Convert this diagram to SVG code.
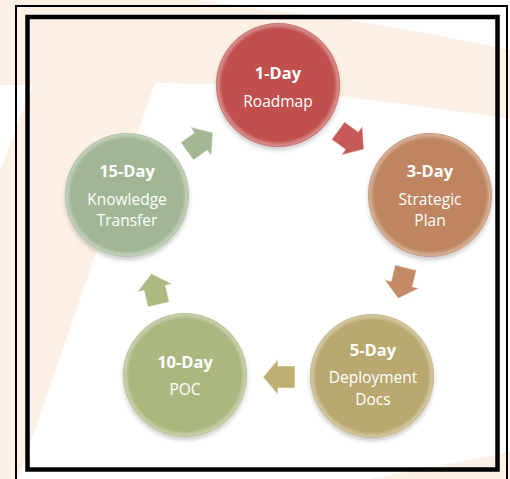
<svg xmlns="http://www.w3.org/2000/svg" width="510" height="479" viewBox="0 0 510 479">
<style>
.lbl{font-family:"Open Sans","Liberation Sans",sans-serif;fill:#fff;text-anchor:middle;font-size:15.5px}
.day{font-weight:bold;font-size:16.5px}
.node circle.base{filter:url(#sh)}
.rim{fill:url(#rimg)}
.arr{stroke:#fff;stroke-opacity:.5;stroke-width:1.2;stroke-linejoin:round}
</style>
<defs>
<filter id="sh" x="-20%" y="-20%" width="140%" height="140%">
<feDropShadow dx="0" dy="3" stdDeviation="2" flood-color="#000" flood-opacity="0.2"/>
</filter>
<radialGradient id="rimg" cx="0.5" cy="0.5" r="0.5">
<stop offset="0.9" stop-color="#fff" stop-opacity="0"/>
<stop offset="0.97" stop-color="#fff" stop-opacity="0.35"/>
<stop offset="1" stop-color="#fff" stop-opacity="0.15"/>
</radialGradient>
<path id="ar" d="M-16,-11 H1 V-18 L16,0 L1,18 V11 H-16 Z"/>
</defs>
<rect width="510" height="479" fill="#fdf1e5"/>
<path d="M155,83 L217,84 Q340,94 510,119 L510,452 L370,479 L18,479 Z" fill="#fff"/>
<path d="M200,0 L510,0 L510,50 Q410,29 330,17 L260,9 Z" fill="#fff"/>
<path d="M0,85 L33,85 L0,170 Z" fill="#fff"/>
<rect x="16" y="6" width="491" height="480" fill="none" stroke="#000" stroke-width="2"/>
<rect x="27.5" y="17" width="470" height="452.5" fill="none" stroke="#000" stroke-width="4.5"/>
<g id="connectors">
<use href="#ar" class="arr" fill="#c65a57" transform="translate(351,140) rotate(36)"/>
<use href="#ar" class="arr" fill="#c48a66" transform="translate(402,283) rotate(104)"/>
<use href="#ar" class="arr" fill="#bfae72" transform="translate(279,377) rotate(180)"/>
<use href="#ar" class="arr" fill="#acb97f" transform="translate(155,289) rotate(257)"/>
<use href="#ar" class="arr" fill="#a3b795" transform="translate(200,142) rotate(-36)"/>
</g>
<g id="n1" class="node">
<circle class="base" cx="278" cy="85" r="62" fill="#c0504d"/>
<circle class="rim" cx="278" cy="85" r="62"/>
<text class="lbl day" x="278" y="79">1-Day</text>
<text class="lbl" x="278" y="107">Roadmap</text>
</g>
<g id="n2" class="node">
<circle class="base" cx="430" cy="195" r="62" fill="#bf8560"/>
<circle class="rim" cx="430" cy="195" r="62"/>
<text class="lbl day" x="430" y="177">3-Day</text>
<text class="lbl" x="430" y="204.5">Strategic</text>
<text class="lbl" x="430" y="226">Plan</text>
</g>
<g id="n3" class="node">
<circle class="base" cx="372" cy="376" r="62" fill="#b9a86f"/>
<circle class="rim" cx="372" cy="376" r="62"/>
<text class="lbl day" x="373" y="356">5-Day</text>
<text class="lbl" x="373" y="383">Deployment</text>
<text class="lbl" x="373" y="404.5">Docs</text>
</g>
<g id="n4" class="node">
<circle class="base" cx="185" cy="375" r="62" fill="#aab77f"/>
<circle class="rim" cx="185" cy="375" r="62"/>
<text class="lbl day" x="185" y="368">10-Day</text>
<text class="lbl" x="185" y="395">POC</text>
</g>
<g id="n5" class="node">
<circle class="base" cx="127" cy="195" r="62" fill="#a1b694"/>
<circle class="rim" cx="127" cy="195" r="62"/>
<text class="lbl day" x="127" y="177">15-Day</text>
<text class="lbl" x="127" y="204.5">Knowledge</text>
<text class="lbl" x="127" y="226">Transfer</text>
</g>
</svg>
